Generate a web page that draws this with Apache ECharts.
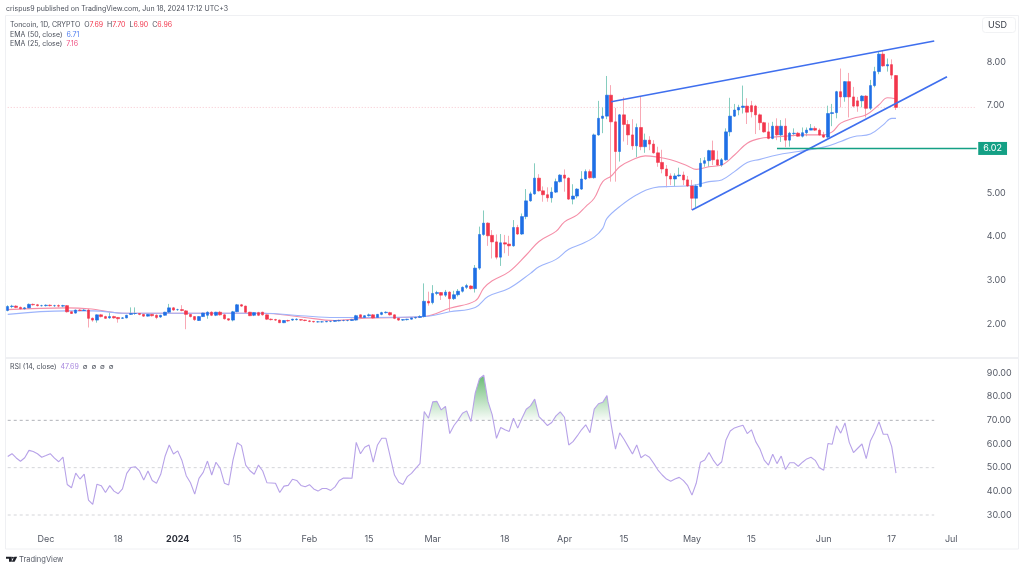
<!DOCTYPE html>
<html><head><meta charset="utf-8">
<style>html,body{margin:0;padding:0;background:#fff}#c{width:1024px;height:570px}</style>
<script src="https://cdn.jsdelivr.net/npm/echarts@6/dist/echarts.min.js"></script>
</head><body><div id="c"></div>
<script>
// All series run daily from 22 Nov 2023 to 18 Jun 2024.
const opens = [
2.31,2.40,2.41,2.38,2.35,2.37,2.45,2.44,2.42,2.42,
2.43,2.42,2.42,2.41,2.42,2.28,2.25,2.32,2.31,2.32,
2.13,2.09,2.21,2.17,2.14,2.17,2.15,2.13,2.14,2.22,
2.24,2.24,2.22,2.18,2.22,2.20,2.16,2.20,2.27,2.37,
2.33,2.33,2.30,2.22,2.17,2.08,2.17,2.20,2.27,2.20,
2.27,2.21,2.12,2.09,2.28,2.44,2.41,2.27,2.20,2.26,
2.27,2.21,2.11,2.10,2.09,2.03,2.08,2.09,2.10,2.10,
2.09,2.07,2.06,2.05,2.05,2.05,2.06,2.06,2.07,2.08,
2.08,2.08,2.09,2.21,2.15,2.19,2.21,2.15,2.22,2.26,
2.26,2.21,2.13,2.09,2.10,2.11,2.14,2.15,2.17,2.52,
2.49,2.70,2.72,2.66,2.73,2.58,2.67,2.75,2.84,2.87,
2.81,3.28,4.05,4.31,4.03,3.88,3.53,3.86,3.83,3.79,
4.21,4.06,4.46,4.82,4.98,5.34,5.05,4.96,4.89,5.02,
5.26,5.41,5.34,4.86,4.93,5.09,5.32,5.49,5.35,6.33,
6.71,6.76,7.24,6.63,5.95,6.79,6.57,6.33,6.08,6.50,
6.06,6.21,6.12,5.92,5.70,5.55,5.39,5.32,5.39,5.41,
5.30,5.16,4.88,5.15,5.68,5.74,5.97,5.76,5.64,5.76,
6.40,6.76,6.90,6.96,6.99,7.00,6.99,6.79,6.61,6.40,
6.25,6.53,6.33,6.53,6.21,6.36,6.37,6.30,6.38,6.44,
6.48,6.44,6.33,6.28,6.82,6.84,7.32,7.20,7.55,7.20,
7.11,7.11,7.22,6.94,7.46,7.78,8.18,7.91,7.94,7.69];
const closes = [
2.40,2.41,2.38,2.35,2.37,2.45,2.44,2.42,2.42,2.43,
2.42,2.42,2.41,2.42,2.28,2.24,2.32,2.31,2.32,2.13,
2.09,2.21,2.17,2.13,2.17,2.14,2.12,2.14,2.20,2.24,
2.24,2.22,2.18,2.22,2.19,2.15,2.20,2.27,2.37,2.32,
2.33,2.31,2.22,2.17,2.10,2.17,2.25,2.27,2.20,2.27,
2.21,2.12,2.09,2.28,2.44,2.41,2.27,2.19,2.26,2.20,
2.21,2.11,2.10,2.09,2.03,2.08,2.07,2.11,2.11,2.09,
2.08,2.06,2.05,2.05,2.05,2.06,2.06,2.08,2.08,2.08,
2.08,2.10,2.19,2.15,2.19,2.21,2.14,2.22,2.26,2.27,
2.21,2.13,2.09,2.10,2.11,2.14,2.15,2.17,2.52,2.48,
2.70,2.72,2.66,2.73,2.58,2.67,2.75,2.84,2.88,2.81,
3.28,4.05,4.31,4.02,3.88,3.53,3.86,3.83,3.79,4.21,
4.06,4.46,4.82,4.98,5.34,5.05,4.96,4.89,5.02,5.26,
5.41,5.34,4.86,4.93,5.09,5.32,5.49,5.35,6.33,6.71,
6.76,7.24,6.63,5.95,6.79,6.57,6.33,6.08,6.50,6.06,
6.21,6.12,5.92,5.70,5.55,5.39,5.32,5.39,5.41,5.30,
5.16,4.88,5.16,5.68,5.74,5.97,5.76,5.64,5.76,6.40,
6.76,6.90,6.96,6.99,6.85,6.86,6.79,6.61,6.40,6.25,
6.53,6.33,6.53,6.21,6.37,6.37,6.30,6.38,6.44,6.48,
6.44,6.33,6.28,6.82,6.84,7.32,7.20,7.55,7.20,6.99,
6.99,7.22,6.94,7.46,7.78,8.18,7.91,7.94,7.70,6.96];
const lows = [
2.29,2.36,2.36,2.33,2.33,2.36,2.42,2.40,2.40,2.40,
2.40,2.39,2.38,2.38,2.26,2.23,2.24,2.29,2.30,1.92,
2.05,2.03,2.15,2.12,2.12,2.12,2.03,2.12,2.13,2.21,
2.21,2.20,2.16,2.17,2.17,2.11,2.14,2.19,2.25,2.30,
2.30,2.29,1.88,2.15,2.07,2.07,2.16,2.12,2.18,2.18,
2.19,2.10,2.07,2.06,2.27,2.39,2.25,2.18,2.18,2.18,
2.19,2.09,2.08,2.07,2.02,2.02,2.05,2.07,2.08,2.07,
2.06,2.04,2.03,2.03,2.03,2.04,2.04,2.05,2.06,2.06,
2.06,2.07,2.08,2.13,2.13,2.17,2.12,2.14,2.20,2.24,
2.19,2.11,2.07,2.07,2.08,2.10,2.12,2.14,2.15,2.42,
2.45,2.66,2.55,2.62,2.28,2.55,2.63,2.72,2.80,2.79,
2.72,3.24,4.02,3.79,3.50,3.48,3.33,3.62,3.56,3.77,
4.04,4.04,4.40,4.80,4.96,5.03,4.80,4.80,4.78,5.00,
5.24,5.03,4.84,4.74,4.88,5.07,5.30,5.33,5.33,6.31,
6.37,6.69,5.26,5.26,5.72,6.18,6.10,5.99,5.82,5.98,
5.92,5.98,5.90,5.60,5.45,5.13,5.18,5.15,5.37,5.18,
5.14,4.61,4.67,5.13,5.60,5.60,5.64,5.62,5.60,5.74,
6.30,6.74,6.78,6.82,6.58,6.73,6.35,6.44,6.38,6.23,
6.23,6.21,6.17,6.05,6.06,6.30,6.29,6.27,6.30,6.44,
6.42,6.31,6.26,6.25,6.53,6.71,6.96,7.09,6.73,6.96,
6.86,6.96,6.73,6.90,7.42,7.72,7.89,7.78,7.61,6.90];
const highs = [
2.43,2.44,2.43,2.40,2.39,2.47,2.47,2.46,2.44,2.45,
2.45,2.44,2.45,2.44,2.43,2.30,2.33,2.34,2.34,2.35,
2.15,2.22,2.23,2.19,2.26,2.19,2.16,2.16,2.21,2.38,
2.38,2.25,2.24,2.23,2.23,2.22,2.21,2.28,2.46,2.39,
2.35,2.43,2.32,2.23,2.18,2.18,2.26,2.29,2.29,2.28,
2.30,2.23,2.13,2.30,2.46,2.46,2.42,2.28,2.27,2.28,
2.28,2.22,2.13,2.12,2.10,2.09,2.10,2.12,2.13,2.11,
2.10,2.09,2.07,2.07,2.07,2.07,2.08,2.09,2.10,2.10,
2.10,2.12,2.21,2.22,2.20,2.24,2.23,2.23,2.28,2.29,
2.28,2.22,2.14,2.11,2.12,2.15,2.17,2.20,2.93,2.74,
2.89,2.76,2.73,2.78,2.75,2.76,2.80,2.86,2.92,2.89,
3.35,4.23,4.60,4.33,4.15,4.05,4.06,4.04,4.02,4.38,
4.27,4.53,5.09,5.03,5.68,5.43,5.15,5.13,5.13,5.33,
5.43,5.54,5.36,5.20,5.11,5.50,5.54,5.54,6.36,7.11,
6.96,7.68,7.47,6.95,6.81,7.19,6.67,6.69,6.59,7.22,
6.36,6.30,6.21,6.06,5.99,5.64,5.45,5.45,5.58,5.49,
5.39,5.30,5.20,5.80,5.82,5.99,6.20,5.97,5.80,6.48,
7.18,7.04,7.02,7.46,7.17,7.11,7.02,6.82,6.63,6.61,
6.63,6.71,6.67,6.71,6.40,6.48,6.40,6.50,6.50,6.58,
6.53,6.48,6.40,7.00,7.04,7.34,7.85,7.56,7.75,7.43,
7.20,7.24,7.24,7.59,7.89,8.24,8.27,8.08,8.06,7.70];
const rsi = [
54.7,55.9,54.1,52.7,54.2,57.3,56.8,55.9,54.4,55.1,
55.9,54,52.5,54.5,42.9,41.5,47.7,45.2,47.3,36.3,
34.5,43,42.4,39.5,42.4,40.1,39,41,47.6,50.1,
50.4,48.6,44.8,48.6,44.6,43.4,47.2,54.7,59.6,55.8,
57.1,53,46.6,43.6,38.8,45.5,48,52.8,46.9,52.3,
49.7,43.4,42.7,53.2,60.5,59.3,51.1,48.7,47.2,51.1,
48.6,43.6,43.5,43.4,39.5,42.2,42.5,45.1,44.6,42.5,
41.9,42.8,41,40.1,41.2,41.2,40.4,41.9,44.6,45.6,
45.6,45.5,60.7,55.9,58.6,59.6,52.3,59.6,62.4,62.4,
54.7,46.9,43.8,42.9,46.2,47.6,49.7,51.7,73.7,70.9,
77.8,78,74.4,75.9,64.4,67.8,70.2,73,74,69.5,
81.5,87.6,89.1,78,72.3,62.4,67,66,65.3,70.9,
66.7,70.9,74.7,76.1,79,71.6,69.8,67.8,69.1,71.9,
73.6,71.3,59.6,61,63.4,66,68.1,64.8,74.7,77,
77.6,80.5,68.1,57.8,64.7,62,58.9,55.8,59.6,54.2,
55.5,54.4,51.8,49,46.9,45.2,44.3,45.2,45.9,44.5,
42.4,38.4,43.4,52.3,53.2,56.4,53.2,50.8,52.5,61.7,
65.5,66.8,67.4,67.9,64.4,66,61,57.9,53.2,51.1,
55.7,51.7,54.9,49.2,52.1,52.1,50.6,52.3,53.7,54.4,
53.1,50,48.9,60.2,59.9,67.7,64.6,68.9,60.7,56.4,
58.2,60,53.8,61.4,65,69.4,64.1,64.1,58.9,47.69];
// Days are counted from 1 Dec 2023; readings.
const ema25Days = [-9,5,10,19,37,51,60,68,75,89,95,101,103,105,109,113,116,120,122,125,127,129,131,133,135,138,141,144,147,151,153,156,159,162,165,168,171,175,178,183,185,187,190,193,196,198,200];
const ema25Vals = [2.33,2.37,2.35,2.245,2.245,2.245,2.16,2.08,2.13,2.17,2.36,2.53,2.82,2.99,3.2,3.58,3.89,4.12,4.34,4.5,4.69,4.88,5.26,5.39,5.6,5.76,5.85,5.82,5.76,5.62,5.54,5.6,5.64,5.87,6.14,6.25,6.28,6.31,6.33,6.33,6.4,6.6,6.71,6.79,7.02,7.18,7.16];
const ema50Days = [-9,5,11,19,51,60,68,75,89,95,101,104,109,114,116,120,123,126,129,131,132,135,139,143,147,152,156,159,162,165,168,172,177,183,187,190,194,197,199,200];
const ema50Vals = [2.22,2.30,2.30,2.245,2.245,2.19,2.15,2.15,2.17,2.28,2.38,2.63,2.82,3.16,3.31,3.48,3.71,3.83,3.99,4.19,4.42,4.69,4.96,5.12,5.15,5.17,5.26,5.30,5.49,5.70,5.77,5.87,5.95,6.05,6.18,6.29,6.35,6.56,6.71,6.71];
const upperTrendDays = [133,209], upperTrendVals = [7.09,8.48];
const lowerTrendDays = [152,212], lowerTrendVals = [4.61,7.66];
const levelDays = [172,219], levelVals = [6.02,6.02];
const lastPriceDays = [-9,219], lastPriceVals = [6.96,6.96];
const rsiLevels = [70,50,30];
const tickDays = [0,17,31,45,62,76,91,108,122,136,152,166,183,199,213];
const tickLabels = ['Dec','18','2024','15','Feb','15','Mar','18','Apr','15','May','15','Jun','17','Jul'];

const firstDay = Date.UTC(2023,10,22), dayOffset = 9, nCats = 229;
const categories = Array.from({length:nCats},(_,k)=>new Date(firstDay+k*864e5).toISOString().slice(0,10));
const pairs = (d,v)=>d.map((x,k)=>[x+dayOffset,v[k]]);
const tickMap = {}; tickDays.forEach((d,k)=>tickMap[d+dayOffset]=tickLabels[k]);
const wickData = opens.map((o,k)=>[o,closes[k],lows[k],highs[k]]);
const bodyData = opens.map((o,k)=>[o,closes[k],Math.min(o,closes[k]),Math.max(o,closes[k])]);

const FONT='Inter, "Noto Sans", sans-serif', UP='#1f6fe5', DOWN='#f2364c', TXT='#555a66';
const L=5.6,W=973.25, LEG=7, AX=9;
const line=(name,d,color,width,extra)=>Object.assign({type:'line',name,data:d,xAxisIndex:0,yAxisIndex:0,symbol:'none',silent:true,
  lineStyle:{color,width},z:3},extra||{});
const labelStyle={fontFamily:FONT,fontSize:LEG,fill:'#4a4f5a'};
const txt=(x,y,text,rich)=>({type:'text',x,y,silent:true,style:Object.assign({},labelStyle,{text,rich:rich||{},verticalAlign:'middle'})});
const r={r:{fill:'#f2364c',fontFamily:FONT,fontSize:LEG},b:{fill:'#4f7df0',fontFamily:FONT,fontSize:LEG},p:{fill:'#ef4f80',fontFamily:FONT,fontSize:LEG},v:{fill:'#a584dd',fontFamily:FONT,fontSize:LEG},k:{fill:'#4a4f5a',fontFamily:FONT,fontSize:LEG}};

const chart=echarts.init(document.getElementById('c'),null,{renderer:'canvas'});
chart.setOption({
  animation:false,backgroundColor:'#fff',
  grid:[{left:L,width:W,top:18.33,height:349.33},{left:L,width:W,top:373,height:142}],
  xAxis:[
    {type:'category',gridIndex:0,data:categories,show:false},
    {type:'category',gridIndex:1,data:categories,axisLine:{show:false},axisTick:{show:false},splitLine:{show:false},
     axisLabel:{margin:19.5,fontFamily:FONT,fontSize:AX,color:TXT,
       interval:(idx)=>idx in tickMap,
       formatter:(v,idx)=>{const s=tickMap[idx]; return s==='2024'?'{y|2024}':(s||'');},
       rich:{y:{fontFamily:FONT,fontSize:AX,fontWeight:'bold',color:'#2a2e39'}}}}
  ],
  yAxis:[
    {type:'value',gridIndex:0,position:'right',min:1,max:9,interval:1,splitLine:{show:false},axisLine:{show:false},axisTick:{show:false},
     axisLabel:{margin:8,fontFamily:FONT,fontSize:AX,color:TXT,formatter:v=>(v<2||v>8)?'':v.toFixed(2)}},
    {type:'value',gridIndex:1,position:'right',min:30,max:90,interval:10,splitLine:{show:false},axisLine:{show:false},axisTick:{show:false},
     axisLabel:{margin:8,fontFamily:FONT,fontSize:AX,color:TXT,formatter:v=>v.toFixed(2)}}
  ],
  series:[
    line('Last',pairs(lastPriceDays,lastPriceVals),'#f6c4cc',1,{lineStyle:{color:'#f6c4cc',width:1,type:[1,2]},z:1}),
    {type:'candlestick',name:'wicks',data:wickData,xAxisIndex:0,yAxisIndex:0,barWidth:1,silent:true,z:2,
     itemStyle:{color:'#86cdbf',color0:'#f8a9b5',borderColor:'#86cdbf',borderColor0:'#f8a9b5',borderWidth:1}},
    line('EMA 25',pairs(ema25Days,ema25Vals),'#f58fa8',1.1,{z:3,smooth:0.4}),
    line('EMA 50',pairs(ema50Days,ema50Vals),'#9db4fb',1.1,{z:3,smooth:0.4}),
    {type:'candlestick',name:'bodies',data:bodyData,xAxisIndex:0,yAxisIndex:0,barWidth:3,silent:true,z:4,
     itemStyle:{color:UP,color0:DOWN,borderColor:UP,borderColor0:DOWN,borderWidth:0.6}},
    line('Upper trend',pairs(upperTrendDays,upperTrendVals),'#3f6fee',1.7,{z:5}),
    line('Lower trend',pairs(lowerTrendDays,lowerTrendVals),'#3f6fee',1.7,{z:5}),
    line('Level',pairs(levelDays,levelVals),'#14a085',1.5,{z:5,
      endLabel:{show:true,formatter:()=>levelVals[0].toFixed(2),color:'#fff',backgroundColor:'#14a085',fontFamily:FONT,fontSize:AX,
        padding:[2,5,2,5],distance:1.5}}),
    ...rsiLevels.map(v=>({type:'line',name:'rsi '+v,xAxisIndex:1,yAxisIndex:1,symbol:'none',silent:true,clip:false,z:1,
      data:[[0,v],[nCats-11,v]],lineStyle:{color:v===70?'#b0b2b8':'#d4d5d9',width:1,type:[3,3]}})),
    {type:'line',name:'RSI',data:rsi,xAxisIndex:1,yAxisIndex:1,symbol:'none',silent:true,clip:false,z:3,
     lineStyle:{color:'#b7a2e8',width:1.1},
     areaStyle:{origin:70,opacity:1,color:new echarts.graphic.LinearGradient(0,0,0,1,[
       {offset:0,color:'rgba(66,170,80,0.8)'},{offset:0.35,color:'rgba(66,170,80,0.03)'},
       {offset:0.351,color:'rgba(255,255,255,0)'},{offset:1,color:'rgba(255,255,255,0)'}])}}
  ],
  graphic:[
    {type:'rect',silent:true,z:-1,shape:{x:5.5,y:15.5,width:1013,height:533.5},style:{fill:'none',stroke:'#eff0f3',lineWidth:1}},
    {type:'line',silent:true,z:-1,shape:{x1:5.5,y1:358,x2:1018.5,y2:358},style:{stroke:'#eff0f3',lineWidth:2}},
    {type:'rect',silent:true,z:-1,shape:{x:982.5,y:17.5,width:33,height:15,r:3},style:{fill:'#fff',stroke:'#f1f2f4',lineWidth:1}},
    txt(6,9,'crispus9 published on TradingView.com, Jun 18, 2024 17:12 UTC+3'),
    txt(10,24.7,'{k|Toncoin, 1D, CRYPTO  O}{r|7.69}{k|  H}{r|7.70}{k|  L}{r|6.90}{k|  C}{r|6.96}',r),
    txt(10,34.5,'{k|EMA (50, close)  }{b|6.71}',r),
    txt(10,44.3,'{k|EMA (25, close)  }{p|7.16}',r),
    txt(10,367,'{k|RSI (14, close)  }{v|47.69}{k|  ∅  ∅  ∅  ∅}',r),
    {type:'text',x:988,y:25,silent:true,style:{text:'USD',fontFamily:FONT,fontSize:AX,fill:'#3a3e49',verticalAlign:'middle'}},
    {type:'polygon',silent:true,shape:{points:[[6,556.8],[11.8,556.8],[11.8,561.8],[9,561.8],[9,558.8],[6,558.8]]},style:{fill:'#1c1f27'}},
    {type:'circle',silent:true,shape:{cx:12.9,cy:557.8,r:1},style:{fill:'#1c1f27'}},
    {type:'polygon',silent:true,shape:{points:[[14.4,556.8],[17.2,556.8],[14.6,561.8],[11.8,561.8]]},style:{fill:'#1c1f27'}},
    {type:'text',x:19,y:559.3,silent:true,style:{text:'TradingView',fontFamily:FONT,fontSize:7.5,fill:'#555a66',verticalAlign:'middle'}}
  ]
});
</script></body></html>
